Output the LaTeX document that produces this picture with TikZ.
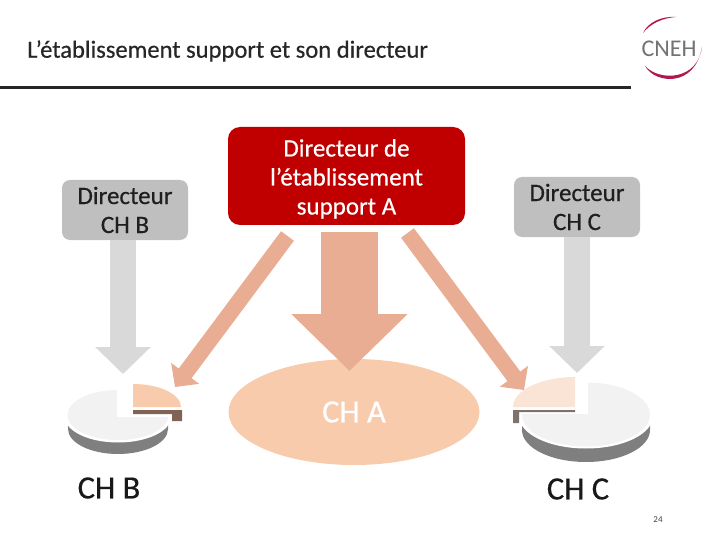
\documentclass[tikz,border=0pt]{standalone}
\usepackage{fontspec}
\setmainfont{Carlito}
\newfontfamily\heavyfont{Carlito}[FakeBold=0.5]
\usepackage{tikz}
\usetikzlibrary{arrows.meta,positioning,shapes.geometric}
\definecolor{cnehred}{HTML}{C00000}
\definecolor{cnehlogo}{HTML}{B3174F}
\definecolor{cnehgrey}{HTML}{BFBFBF}
\definecolor{cnehpale}{HTML}{F2F2F2}
\definecolor{cnehside}{HTML}{7F7F7F}
\definecolor{grayarrow}{HTML}{D9D9D9}
\definecolor{peach}{HTML}{F7CBAC}
\definecolor{peachpale}{HTML}{F9E4D6}
\definecolor{peacharrow}{HTML}{E8AD92}
\definecolor{brownside}{HTML}{7F6355}
\definecolor{brownpale}{HTML}{7F716B}
\tikzset{
    every node/.style={font=\heavyfont\fontsize{25}{29}\selectfont,inner sep=0pt},
    headbox/.style={rectangle,rounded corners=12pt,fill=cnehred,text=white,minimum width=237pt,minimum height=98pt,align=center},
    sidebox/.style={rectangle,rounded corners=8pt,fill=cnehgrey,text=black!88,minimum width=126pt,minimum height=60pt,align=center},
    chlabel/.style={font=\heavyfont\fontsize{32.5}{36}\selectfont},
    grayflow/.style={draw=grayarrow,line width=26pt,-{Triangle[length=27pt,width=54pt]}},
    mainflow/.style={draw=peacharrow,line width=57pt,-{Triangle[length=57pt,width=113pt]}},
    slantflow/.style={draw=peacharrow,line width=16pt,-{Triangle[length=17pt,width=34pt]}}
}
\begin{document}
\begin{tikzpicture}[x=1pt,y=-1pt]
\useasboundingbox (0,0) rectangle (720,540);
\node[font=\heavyfont\fontsize{24.6}{28}\selectfont,text=black!85,anchor=west] (title) at (27,51) {L’établissement support et son directeur};
\coordinate (ruleleft) at (0,88);
\coordinate (ruleright) at (631,88);
\draw[line width=3pt,black!85] (ruleleft) -- (ruleright);
\fill[cnehlogo] (643,33) .. controls (648,22) and (662,16) .. (676,17) .. controls (662,18) and (650,24) .. (643,33) -- cycle;
\fill[cnehlogo] (645,66) .. controls (655,84) and (695,88) .. (702,47) .. controls (698,80) and (660,82) .. (645,66) -- cycle;
\node[font=\normalfont\fontsize{24}{28}\selectfont,text=black!55] (logo) at (669,49) {CNEH};

\node[ellipse,fill=peach,minimum width=251pt,minimum height=106pt] (cha) at (354,412) {};
\node[chlabel,text=white] (chalabel) at (354,412) {CH A};

\node[headbox] (dirA) at (346.5,176) {\rule{0pt}{23pt}Directeur de\\l’établissement\\support A};
\node[sidebox] (dirB) at (125,210) {Directeur\\CH B};
\node[sidebox] (dirC) at (577,207) {Directeur\\CH C};

\fill[cnehside] (68,426) -- (68,429) arc (180:0:50 and 25) -- (168,424) -- cycle;
\fill[white] (118,417) ellipse (53 and 25.5);
\fill[cnehpale] (118,415) ellipse (50.5 and 25);
\fill[white] (117,417) rectangle (175,385);
\fill[peach] (133,407) -- (133,384) arc (-90:0:48 and 23) -- cycle;
\fill[brownside] (133,410) -- (182,410) -- (182,421) -- (172,421) -- (172,414) -- (133,414) -- cycle;
\node[chlabel,text=black!90] (chb) at (109,488) {CH B};

\fill[cnehside] (522,425) -- (522,430) arc (180:0:64 and 32) -- (650,425) -- cycle;
\fill[white] (586,416) ellipse (67 and 32.5);
\fill[cnehpale] (586,414.5) ellipse (64 and 32);
\fill[white] (588,414) rectangle (515,378);
\fill[peachpale] (575,407) -- (575,377) arc (-90:-180:62 and 30) -- cycle;
\fill[brownpale] (575,410) -- (513,410) -- (513,423) -- (519,423) -- (519,412) -- (575,412) -- cycle;
\node[chlabel,text=black!90] (chc) at (578,489) {CH C};

\coordinate (mainstart) at (349.5,232);
\coordinate (maintip) at (349.5,371);
\draw[mainflow] (mainstart) -- (maintip);
\coordinate (leftstart) at (287.5,236);
\coordinate (lefttip) at (175,387);
\draw[slantflow] (leftstart) -- (lefttip);
\coordinate (rightstart) at (407.5,233);
\coordinate (righttip) at (524,390);
\draw[slantflow] (rightstart) -- (righttip);
\coordinate (graybtip) at (123,374);
\draw[grayflow] (dirB.south -| graybtip) -- (graybtip);
\coordinate (grayctip) at (577,373);
\draw[grayflow] (dirC.south -| grayctip) -- (grayctip);

\node[font=\normalfont\fontsize{9}{11}\selectfont,text=black!75] (pagenum) at (658,520) {24};
\end{tikzpicture}
\end{document}
